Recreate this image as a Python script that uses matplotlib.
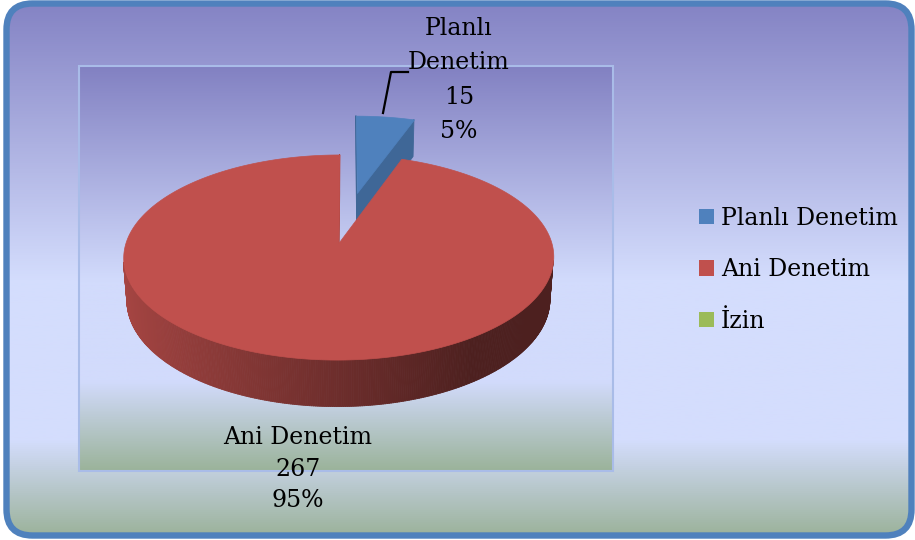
import numpy as np
import matplotlib.pyplot as plt
from matplotlib.colors import LinearSegmentedColormap, to_rgb
from matplotlib.patches import FancyBboxPatch, Rectangle, Patch
from matplotlib.collections import PolyCollection

plt.rcParams['font.family'] = ['DejaVu Serif']

# --- data ---
labels = ['Planlı Denetim', 'Ani Denetim', 'İzin']
values = [15, 267, 0]
colors = ['#4F81BD', '#C0504D', '#9BBB59']

# --- 3D pie geometry (pixel canvas) ---
ELEV = np.radians(27.1)
DIST = 6.67
FOCAL = 1370
THICK = 0.23
EXPLODE = 0.27
CX, CY = 348, 217

cam = np.array([0.0, DIST * np.sin(ELEV), DIST * np.cos(ELEV)])


def project(x, y, z):
    depth = DIST - y * np.sin(ELEV) - z * np.cos(ELEV)
    u = FOCAL * x / depth
    v = FOCAL * (y * np.cos(ELEV) - z * np.sin(ELEV)) / depth
    return CX + u, CY - v


def shade(color, k):
    r, g, b = to_rgb(color)
    return (r * k, g * k, b * k)


def direction(deg):
    t = np.radians(deg)
    return np.array([np.sin(t), 0.0, -np.cos(t)])


fig = plt.figure(figsize=(9.15, 5.4), dpi=100)
ax = fig.add_axes([0, 0, 1, 1])
ax.set_xlim(0, 915)
ax.set_ylim(540, 0)
ax.axis('off')

# --- backgrounds ---
grad = np.linspace(0, 1, 512).reshape(-1, 1)
cm_chart = LinearSegmentedColormap.from_list(
    'chart', [(0, '#8483C4'), (0.52, '#D4DDFD'), (0.82, '#D4DDFD'), (1, '#9BB29A')])
cm_plot = LinearSegmentedColormap.from_list(
    'plot', [(0, '#8281C2'), (0.53, '#D2DBFC'), (0.78, '#D2DBFC'), (1, '#9BB39A')])

frame = FancyBboxPatch((6.5, 3.5), 905, 532, boxstyle='round,pad=0,rounding_size=26',
                       fc='none', ec='#4F81BD', lw=4.6, zorder=5)
im = ax.imshow(grad, extent=[4, 912, 537, 2], cmap=cm_chart, aspect='auto', zorder=0)
ax.add_patch(frame)
im.set_clip_path(frame)

ax.imshow(grad, extent=[79, 613, 471, 66], cmap=cm_plot, aspect='auto', zorder=1)
ax.add_patch(Rectangle((79, 66), 534, 405, fc='none', ec='#A9BCE8', lw=1.5, zorder=2))

# --- slices ---
total = sum(values)
start = 0.0
for val, col in zip(values, colors):
    if val == 0:
        continue
    a0, a1 = start, start + 360.0 * val / total
    start = a1
    off = EXPLODE * direction((a0 + a1) / 2)
    ox, oz = off[0], off[2]

    polys, fcs = [], []

    # radial cut faces
    for ang, normal_ang in ((a0, a0 - 90), (a1, a1 + 90)):
        e = direction(ang) + off
        cen = np.array([(ox + e[0]) / 2, -THICK / 2, (oz + e[2]) / 2])
        if np.dot(direction(normal_ang), cam - cen) > 0:
            pts = [project(ox, 0, oz), project(e[0], 0, e[2]),
                   project(e[0], -THICK, e[2]), project(ox, -THICK, oz)]
            polys.append(pts)
            fcs.append(shade(col, 0.8))

    # outer wall
    phis = np.linspace(a0, a1, max(int((a1 - a0) * 2), 8))
    for p, q in zip(phis[:-1], phis[1:]):
        m = (p + q) / 2
        n = direction(m)
        cen = n + off + np.array([0, -THICK / 2, 0])
        if np.dot(n, cam - cen) > 0:
            dp, dq = direction(p) + off, direction(q) + off
            pts = [project(dp[0], 0, dp[2]), project(dq[0], 0, dq[2]),
                   project(dq[0], -THICK, dq[2]), project(dp[0], -THICK, dp[2])]
            polys.append(pts)
            k = np.clip(0.57 - 0.3 * np.sin(np.radians(m)), 0.40, 0.9)
            fcs.append(shade(col, k))

    ax.add_collection(PolyCollection(polys, facecolors=fcs, edgecolors=fcs,
                                     linewidths=0.6, zorder=3))

    # top face
    rim = [project(*(direction(p) + off)) for p in phis]
    top = [project(ox, 0, oz)] + rim
    ax.add_collection(PolyCollection([top], facecolors=[col], edgecolors=[col],
                                     linewidths=0.5, zorder=3))

# --- data labels ---
pcts = [round(100 * v / total) for v in values]
ax.text(459, 80, f"Planlı\nDenetim\n{values[0]}\n{pcts[0]}%", ha='center', va='center',
        fontsize=17, linespacing=1.62, zorder=6)
ax.text(298, 469, f"{labels[1]}\n{values[1]}\n{pcts[1]}%", ha='center', va='center',
        fontsize=17, linespacing=1.48, zorder=6)
ax.plot([383, 391, 408], [113, 72, 72], color='black', lw=1.6, zorder=6)

# --- legend ---
handles = [Patch(facecolor=c, edgecolor='none') for c in colors]
ax.legend(handles, labels, loc='upper left', bbox_to_anchor=(699, 207),
          bbox_transform=ax.transData, frameon=False, fontsize=17,
          handlelength=0.62, handleheight=0.62, handletextpad=0.3,
          labelspacing=1.2, borderpad=0, borderaxespad=0)

fig.savefig('out.png', dpi=100)
